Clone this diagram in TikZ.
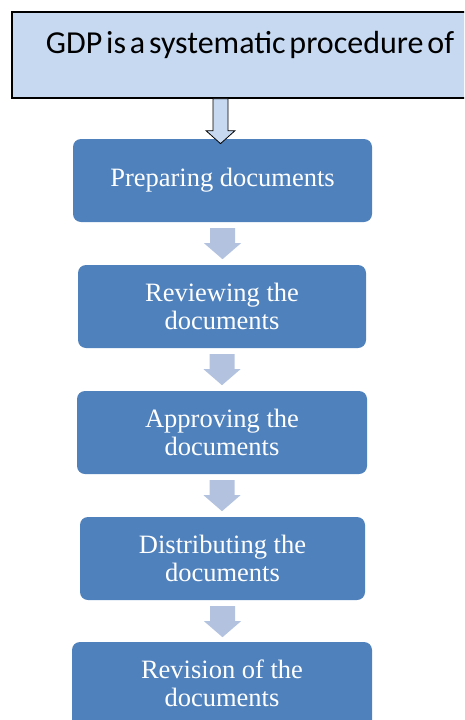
\documentclass[tikz,border=0pt]{standalone}
\usepackage{fontspec}
\setmainfont{Liberation Serif}
\newfontfamily\titlefont{Carlito}
\usetikzlibrary{calc}
\definecolor{titleblue}{HTML}{C6D9F1}
\definecolor{boxblue}{HTML}{4F81BD}
\definecolor{arrowblue}{HTML}{B3C3DF}

\tikzset{
  stepbox/.style={fill=boxblue, rounded corners=8pt, text=white, align=center,
    font=\fontsize{26.5}{28}\selectfont, inner sep=0pt, minimum height=83pt},
  flowarrow/.pic={
    \fill[arrowblue] (-12.5,0) -- (12.5,0) -- (12.5,15) -- (18.5,15) -- (0,31)
      -- (-18.5,15) -- (-12.5,15) -- cycle;},
  hollowarrow/.pic={
    \draw[line width=0.8pt, fill=titleblue] (-7.5,0) -- (7.5,0) -- (7.5,32) -- (14.5,32)
      -- (0,45) -- (-14.5,32) -- (-7.5,32) -- cycle;},
}

\begin{document}
\begin{tikzpicture}[x=1pt, y=-1pt]
   \useasboundingbox (0,0) rectangle (464,720);
   \clip (0,0) rectangle (464,720);

   % heading box, runs past the right edge
   \node[draw=black, line width=1.3pt, fill=titleblue, minimum width=476pt, inner sep=0pt,
         text height=41pt, text depth=45pt, font=\titlefont\fontsize{32}{34}\selectfont]
         (title) at (250,55) {\spaceskip=0.12em GDP is a systematic procedure of};

   % steps
   \node[stepbox, minimum width=299pt] (prep) at (222.5,180.5) {Preparing documents};
   \node[stepbox, minimum width=288pt] (review) at (222,306.5) {Reviewing the\\documents};
   \node[stepbox, minimum width=290pt] (approve) at (222,432.5) {Approving the\\documents};
   \node[stepbox, minimum width=285pt] (distrib) at (222.5,558.5) {Distributing the\\documents};
   \node[stepbox, minimum width=300pt, minimum height=90pt] (revise) at (222,687) {};
   \node[text=white, align=center, font=\fontsize{26.5}{28}\selectfont, inner sep=0pt]
         (revisetext) at (222,683.5) {Revision of the\\documents};

   % arrows between steps
   \pic at ($(prep.south)+(0,6)$) {flowarrow};
   \pic at ($(review.south)+(0,6)$) {flowarrow};
   \pic at ($(approve.south)+(0,6)$) {flowarrow};
   \pic at ($(distrib.south)+(0,6)$) {flowarrow};

   % hollow arrow from the heading
   \pic at (title.south -| 220.5,0) {hollowarrow};
\end{tikzpicture}
\end{document}
